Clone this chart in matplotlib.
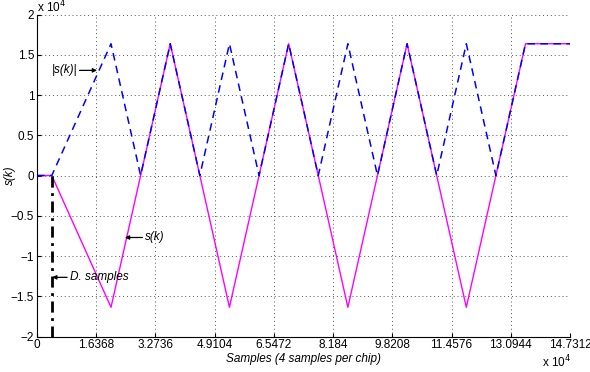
import matplotlib
matplotlib.use("Agg")
import matplotlib.pyplot as plt

# values in units of 1e4 samples / 1e4 amplitude
s_x = [0, 0.4092, 2.046, 3.6828, 5.3196, 6.9564, 8.5932, 10.23, 11.8668, 13.5036, 14.7312]
s_y = [0, 0, -1.6368, 1.6368, -1.6368, 1.6368, -1.6368, 1.6368, -1.6368, 1.6368, 1.6368]

abs_x = [0, 0.4092, 2.046, 2.8644, 3.6828, 4.5012, 5.3196, 6.138, 6.9564, 7.7748,
         8.5932, 9.4116, 10.23, 11.0484, 11.8668, 12.6852, 13.5036, 14.7312]
abs_y = [0, 0, 1.6368, 0, 1.6368, 0, 1.6368, 0, 1.6368, 0,
         1.6368, 0, 1.6368, 0, 1.6368, 0, 1.6368, 1.6368]

d_samples = 0.4092
x_ticks = [0, 1.6368, 3.2736, 4.9104, 6.5472, 8.184, 9.8208, 11.4576, 13.0944, 14.7312]
x_labels = ["0", "1.6368", "3.2736", "4.9104", "6.5472", "8.184", "9.8208", "11.4576", "13.0944", "14.7312"]
y_ticks = [-2, -1.5, -1, -0.5, 0, 0.5, 1, 1.5, 2]
y_labels = ["\u22122", "\u22121.5", "\u22121", "\u22120.5", "0", "0.5", "1", "1.5", "2"]

plt.rcParams["font.family"] = ["Liberation Sans", "DejaVu Sans"]
fs = 8.5

fig = plt.figure(figsize=(5.9, 3.72), dpi=100)
ax = fig.add_axes([0.0627, 0.0954, 0.9033, 0.8656])

ax.plot(s_x, s_y, color="#ff00ff", lw=1.0)
ax.plot(abs_x, abs_y, color="#0000ff", lw=1.1, dashes=(5, 3.5))
ax.plot([d_samples, d_samples], [0, -2], color="black", lw=2, dashes=(4, 2, 1, 2))

ax.set_xlim(0, 14.7312)
ax.set_ylim(-2, 2)
ax.set_xticks(x_ticks)
ax.set_xticklabels(x_labels)
ax.set_yticks(y_ticks)
ax.set_yticklabels(y_labels)
ax.tick_params(direction="in", labelsize=fs, length=3, pad=2)
ax.grid(True, color="#555555", linestyle=(0, (1, 3)), lw=0.7)
ax.spines["top"].set_visible(False)
ax.spines["right"].set_visible(False)

ax.set_xlabel("Samples (4 samples per chip)", fontsize=fs, style="italic", labelpad=1)
fig.text(10 / 590, 1 - 175 / 372, "s(k)", fontsize=fs, style="italic", rotation=90,
         ha="center", va="center")

fig.text(37 / 590, 1 - 7 / 372, r"x 10$^4$", fontsize=fs, ha="left", va="center")
fig.text(542 / 590, 1 - 362 / 372, r"x 10$^4$", fontsize=fs, ha="left", va="center")

arrow = dict(arrowstyle="-|>", color="black", lw=0.9, mutation_scale=6, shrinkA=0, shrinkB=0)
ax.annotate("|s(k)|", xy=(1.66, 1.306), xytext=(1.1, 1.306), fontsize=fs, style="italic",
            ha="right", va="center", arrowprops=arrow)
ax.annotate("s(k)", xy=(2.43, -0.77), xytext=(2.99, -0.77), fontsize=fs, style="italic",
            ha="left", va="center", arrowprops=arrow)
ax.annotate("D. samples", xy=(0.42, -1.265), xytext=(0.91, -1.265), fontsize=fs, style="italic",
            ha="left", va="center", arrowprops=arrow)

fig.savefig("out.png", dpi=100)
